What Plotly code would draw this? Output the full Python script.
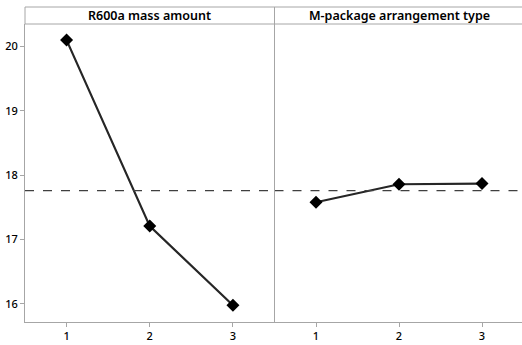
import plotly.graph_objects as go
from plotly.subplots import make_subplots

levels = [1, 2, 3]
panel_titles = ["R600a mass amount", "M-package arrangement type"]
r600a_means = [20.10, 17.21, 15.98]
mpackage_means = [17.58, 17.86, 17.87]
grand_mean = 17.76
y_ticks = [16, 17, 18, 19, 20]

W, H = 522, 345
ml, mr, mt, mb = 25, 0, 24, 23
plot_w = W - ml - mr
plot_h = H - mt - mb
split = (274.5 - ml) / plot_w

fig = make_subplots(rows=1, cols=2, shared_yaxes=True, horizontal_spacing=0)
fig.update_layout(xaxis=dict(domain=[0, split]), xaxis2=dict(domain=[split, 1]))

for i, vals in enumerate([r600a_means, mpackage_means], start=1):
    fig.add_trace(go.Scatter(
        x=levels, y=vals, mode="lines+markers",
        line=dict(color="#262626", width=2.2),
        marker=dict(symbol="diamond", size=10, color="#000000"),
        showlegend=False), row=1, col=i)
    fig.add_hline(y=grand_mean, line=dict(color="#404040", width=1.3, dash="dash"), row=1, col=i)

gray = "#a6a6a6"
tickfont = dict(family="Noto Sans", size=11, color="#000000", weight=500)
fig.update_xaxes(range=[0.5, 3.5], tickvals=levels, ticks="outside", ticklen=4,
                 tickcolor=gray, showline=True, linecolor=gray, linewidth=1,
                 showgrid=False, zeroline=False, tickfont=tickfont)
fig.update_xaxes(range=[0.5, 0.5 + (W - 274.5) / 83.0], row=1, col=2)
fig.update_yaxes(range=[15.72, 20.35], tickvals=y_ticks, ticks="outside", ticklen=4,
                 tickcolor=gray, showline=True, linecolor=gray, linewidth=1,
                 showgrid=False, zeroline=False, tickfont=tickfont)
fig.update_yaxes(showline=False, ticks="", row=1, col=2)

strip_h = 17 / plot_h
line_style = dict(color=gray, width=1)
fig.add_shape(type="line", xref="paper", yref="paper", x0=0, x1=1.01,
              y0=1 + strip_h, y1=1 + strip_h, line=line_style)
fig.add_shape(type="line", xref="paper", yref="paper", x0=0, x1=1.01,
              y0=1, y1=1, line=line_style)
fig.add_shape(type="line", xref="paper", yref="paper", x0=0, x1=0,
              y0=1, y1=1 + strip_h, line=line_style)
fig.add_shape(type="line", xref="paper", yref="paper", x0=split, x1=split,
              y0=0, y1=1 + strip_h, line=line_style)

for j, t in enumerate(panel_titles):
    x0, x1 = (0, split) if j == 0 else (split, 1 + 2 / plot_w)
    fig.add_annotation(text=t, xref="paper", yref="paper", x=(x0 + x1) / 2,
                       y=1 + strip_h / 2, showarrow=False, xanchor="center", yanchor="middle",
                       font=dict(family="Noto Sans", size=12.5, color="#000000", weight=600))

fig.update_layout(width=W, height=H, margin=dict(l=ml, r=mr, t=mt, b=mb),
                  plot_bgcolor="white", paper_bgcolor="white")

fig.write_html("out.html")
